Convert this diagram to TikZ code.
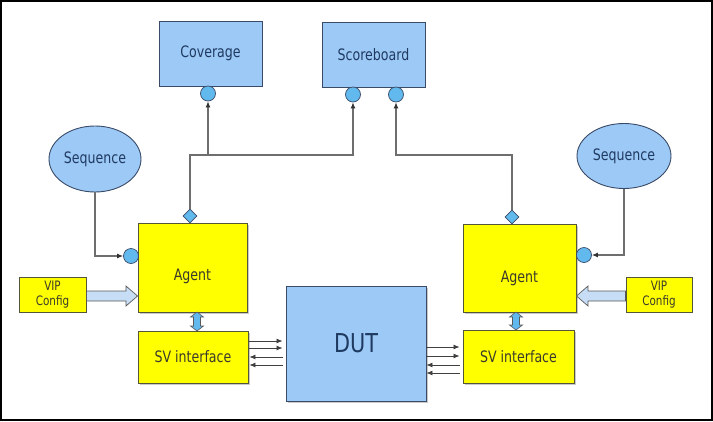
\documentclass[tikz,border=0pt]{standalone}
\usepackage{fontspec}
\setmainfont{DejaVu Sans}[FakeStretch=0.8]
\usetikzlibrary{shapes.geometric,arrows.meta,shadows}
\definecolor{boxblue}{HTML}{9DC9F7}
\definecolor{boxyel}{HTML}{FFFF00}
\definecolor{portblue}{HTML}{62B9EE}
\definecolor{hollowblue}{HTML}{C6DDF5}
\definecolor{navytext}{HTML}{1F3A60}
\definecolor{yeltext}{HTML}{3A3A2C}
\definecolor{bordblue}{HTML}{3A4B68}
\definecolor{bordyel}{HTML}{55553A}
\definecolor{conngray}{HTML}{6E6E6E}
\tikzset{
  shad/.style={drop shadow={shadow xshift=1.5pt, shadow yshift=-1.5pt, opacity=0.35, fill=black!60}},
  bluebox/.style={draw=bordblue, line width=0.9pt, fill=boxblue, text=navytext, font=\fontsize{15.75}{18}\selectfont, inner sep=0pt},
  yelbox/.style={draw=bordyel, line width=0.9pt, fill=boxyel, text=yeltext, font=\fontsize{15.75}{18}\selectfont, inner sep=0pt},
  yellab/.style={text=yeltext, font=\fontsize{15.75}{18}\selectfont},
  seqell/.style={ellipse, draw=bordblue, line width=0.9pt, fill=boxblue, text=navytext, font=\fontsize{15.75}{18}\selectfont, inner sep=0pt},
  port/.style={circle, draw=bordblue, line width=0.7pt, fill=portblue, minimum size=15pt, inner sep=0pt},
  dport/.style={diamond, draw=bordblue, line width=0.7pt, fill=portblue, minimum size=14pt, inner sep=0pt},
  conn/.style={draw=conngray, line width=1.1pt, -{Latex[length=6pt,width=5pt,color=black!80]}},
  sig/.style={draw=black!75, line width=0.8pt, -{Latex[length=6pt,width=5pt]}},
  hollow/.style={draw=gray!70!black, line width=0.7pt, fill=hollowblue},
  dbl/.style={draw=gray!70!black, line width=0.6pt, fill=portblue}
}
\begin{document}
\begin{tikzpicture}[x=1pt,y=-1pt]
\useasboundingbox (0,0) rectangle (713,421);
\draw[black, line width=1.6pt] (1,1) rectangle (712,420);

% top boxes
\node[bluebox, minimum width=103pt, minimum height=65pt] (cov) at (210.5,53.5) {Coverage};
\node[bluebox, minimum width=103pt, minimum height=65pt] (sb) at (373.5,54.5) {Scoreboard};

% sequences
\node[seqell, minimum width=92pt, minimum height=66pt] (seqL) at (95,159) {Sequence};
\node[seqell, minimum width=94pt, minimum height=65pt] (seqR) at (624,156) {Sequence};

% agents
\node[yelbox, shad, minimum width=109pt, minimum height=89pt, label={[yellab, yshift=-9pt]center:Agent}] (agL) at (192.5,267.5) {};
\node[yelbox, shad, minimum width=113pt, minimum height=88pt, label={[yellab, yshift=-10pt]center:Agent}] (agR) at (519.5,268) {};

% VIP config
\node[yelbox, minimum width=67pt, minimum height=35pt, align=center, font=\fontsize{13}{14.5}\selectfont] (vipL) at (52.5,294.5) {VIP\\Config};
\node[yelbox, minimum width=66pt, minimum height=35pt, align=center, font=\fontsize{13}{14.5}\selectfont] (vipR) at (659,294.5) {VIP\\Config};

% SV interfaces
\node[yelbox, shad, minimum width=110pt, minimum height=52pt] (svL) at (193,357) {SV interface};
\node[yelbox, shad, minimum width=111pt, minimum height=53pt] (svR) at (518.5,356.5) {SV interface};

% DUT
\node[bluebox, shad, minimum width=140pt, minimum height=115pt, font=\fontsize{26}{29}\selectfont] (dut) at (356,343.5) {DUT};

% ports
\node[port] (cCov) at (208,93.5) {};
\node[port] (cSb1) at (353,94.5) {};
\node[port] (cSb2) at (396,94.5) {};
\node[port] (cAgL) at (131,256) {};
\node[port] (cAgR) at (584,255) {};
\node[dport] (dAgL) at (190,216) {};
\node[dport] (dAgR) at (512,217) {};

% analysis connections
\coordinate (jL) at (190,155);
\coordinate (jR) at (512,155);
\draw[conn] (dAgL.north) -- (jL) -| (cSb1.south);
\draw[conn] (cCov.south |- jL) -- (cCov.south);
\draw[conn] (dAgR.north) -- (jR) -| (cSb2.south);
\draw[conn] (seqL.south) |- (cAgL.west);
\draw[conn] (seqR.south) |- (cAgR.east);

% hollow config arrows
\path[hollow] (vipL.east |- 0,291) -- (126,291) -- (126,286) -- (agL.west |- 0,296) -- (126,306) -- (126,301) -- (vipL.east |- 0,301) -- cycle;
\path[hollow] (vipR.west |- 0,291) -- (588,291) -- (588,286) -- (agR.east |- 0,296) -- (588,306) -- (588,301) -- (vipR.west |- 0,301) -- cycle;

% double arrows agent <-> SV interface
\path[dbl] (193.5,317) -- (190.5,317) -- (197,312) -- (203.5,317) -- (200.5,317) -- (200.5,326) -- (203.5,326) -- (197,331) -- (190.5,326) -- (193.5,326) -- cycle;
\path[dbl] (512.5,317) -- (509.5,317) -- (516,312) -- (522.5,317) -- (519.5,317) -- (519.5,325) -- (522.5,325) -- (516,330) -- (509.5,325) -- (512.5,325) -- cycle;

% signals SV interface <-> DUT
\draw[sig] ([xshift=1pt]svL.east |- 0,341) -- ([xshift=-3pt]dut.west |- 0,341);
\draw[sig] ([xshift=1pt]svL.east |- 0,348) -- ([xshift=-3pt]dut.west |- 0,348);
\draw[sig] ([xshift=-3pt]dut.west |- 0,357) -- ([xshift=1pt]svL.east |- 0,357);
\draw[sig] ([xshift=-3pt]dut.west |- 0,365) -- ([xshift=1pt]svL.east |- 0,365);

\draw[sig] (dut.east |- 0,347) -- ([xshift=-3pt]svR.west |- 0,347);
\draw[sig] (dut.east |- 0,356) -- ([xshift=-3pt]svR.west |- 0,356);
\draw[sig] ([xshift=-3pt]svR.west |- 0,365) -- (dut.east |- 0,365);
\draw[sig] ([xshift=-3pt]svR.west |- 0,373) -- (dut.east |- 0,373);
\end{tikzpicture}
\end{document}
